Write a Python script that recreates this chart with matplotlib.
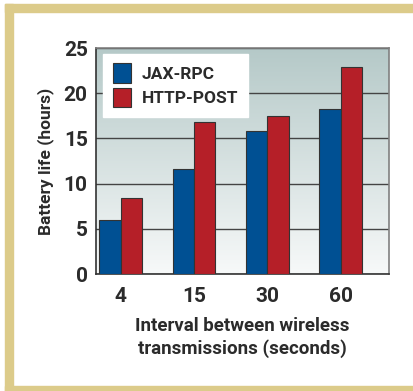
import numpy as np
import matplotlib
matplotlib.use("Agg")
import matplotlib.pyplot as plt
from matplotlib.colors import LinearSegmentedColormap
from matplotlib.patches import Rectangle

intervals = ["4", "15", "30", "60"]
jax_rpc = [6.0, 11.6, 15.8, 18.3]
http_post = [8.4, 16.8, 17.5, 22.9]
y_ticks = [0, 5, 10, 15, 20, 25]

plt.rcParams['font.family'] = ['Roboto', 'DejaVu Sans']
plt.rcParams['font.weight'] = 'bold'
plt.rcParams['axes.labelweight'] = 'bold'
text_color = "#2b2b2b"

fig = plt.figure(figsize=(4.13, 3.91), dpi=100)
fig.patch.set_facecolor("white")

# tan frame on top, left and bottom
tan = "#dccb8a"
fig.patches.append(Rectangle((5 / 413, 1 - 12 / 391), 1, 8 / 391,
                             transform=fig.transFigure, color=tan, zorder=0))
fig.patches.append(Rectangle((5 / 413, 0), 8 / 413, 1 - 4 / 391,
                             transform=fig.transFigure, color=tan, zorder=0))
fig.patches.append(Rectangle((5 / 413, 0), 1, 5 / 391,
                             transform=fig.transFigure, color=tan, zorder=0))

ax = fig.add_axes([96 / 413, 117 / 391, 293 / 413, 226 / 391])

# gradient plot background
cmap = LinearSegmentedColormap.from_list("bg", ["#f7f9f9", "#b5c9c8"])
grad = np.linspace(0, 1, 256).reshape(-1, 1)
ax.imshow(grad, cmap=cmap, aspect="auto", origin="lower",
          extent=[0, 1, 0, 1], transform=ax.transAxes, zorder=0)

x = np.arange(len(intervals))
w = 0.29
ax.bar(x - w / 2, jax_rpc, w, color="#005093", edgecolor="#333333",
       linewidth=0.8, label="JAX-RPC", zorder=3)
ax.bar(x + w / 2, http_post, w, color="#b51f28", edgecolor="#333333",
       linewidth=0.8, label="HTTP-POST", zorder=3)

ax.set_xlim(-0.337, 3.66)
ax.set_ylim(0, 25)
ax.set_yticks(y_ticks)
ax.set_xticks(x)
ax.set_xticklabels(intervals)
ax.yaxis.grid(True, color="#444444", linewidth=1.0, zorder=1)
ax.set_axisbelow(True)

for side in ["top", "right"]:
    ax.spines[side].set_color("#808080")
    ax.spines[side].set_linewidth(1.2)
for side in ["left", "bottom"]:
    ax.spines[side].set_color("#333333")
    ax.spines[side].set_linewidth(1.2)

ax.tick_params(axis="both", length=0, labelsize=15, colors=text_color)
ax.tick_params(axis="y", pad=6)
ax.tick_params(axis="x", pad=9)

ax.set_ylabel("Battery life (hours)", fontsize=12.5, color=text_color, labelpad=7)
ax.set_xlabel("Interval between wireless\ntransmissions (seconds)",
              fontsize=13.5, color=text_color, labelpad=8, linespacing=1.3)

leg = ax.legend(loc="upper left", bbox_to_anchor=(0.025, 0.975), fontsize=12.5,
                frameon=True, fancybox=False, handlelength=1.05, handleheight=1.35,
                handletextpad=0.6, borderpad=0.55, labelspacing=0.3,
                borderaxespad=0)
leg.get_frame().set_facecolor("white")
leg.get_frame().set_edgecolor("white")
leg.get_frame().set_alpha(1)
leg.set_zorder(5)
for t in leg.get_texts():
    t.set_color(text_color)

fig.savefig("out.png", dpi=100, facecolor="white")
